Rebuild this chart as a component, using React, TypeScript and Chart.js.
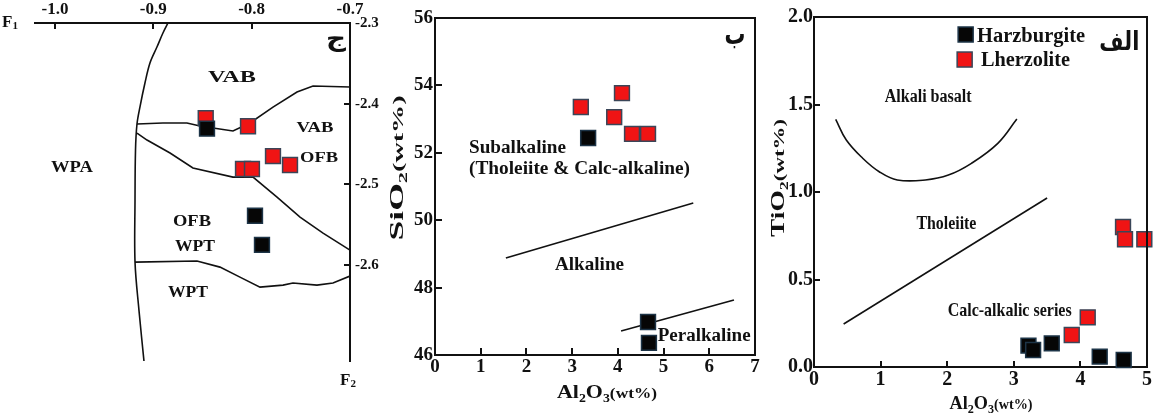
import React, { useEffect, useRef } from 'react';
import { Chart, registerables } from 'chart.js';

Chart.register(...registerables);

const SERIF = '"Liberation Serif", "Times New Roman", serif';
const ARABIC = '"DejaVu Sans", sans-serif';
const INK = '#111111';
const RED = '#f01414';
const RED_EDGE = '#3a4658';
const BLACK = '#060606';
const BLACK_EDGE = '#1d3447';

// ---------- Panel ج : F1 – F2 discrimination diagram ----------
const F1_TICKS = [-1.0, -0.9, -0.8, -0.7];
const F2_TICKS = [-2.3, -2.4, -2.5, -2.6];
const J_HARZ_F1 = [-0.8454, -0.7966, -0.7895];
const J_HARZ_F2 = [-2.431, -2.539, -2.575];
const J_LHERZ_F1 = [-0.8467, -0.8037, -0.8088, -0.7997, -0.7783, -0.761];
const J_LHERZ_F2 = [-2.418, -2.428, -2.481, -2.481, -2.465, -2.476];
const J_ARC_F1 = [-0.8851, -0.8902, -0.8963, -0.9034, -0.9085, -0.9136, -0.9166, -0.9181, -0.9186, -0.9186, -0.9146, -0.9095];
const J_ARC_F2 = [-2.3, -2.3124, -2.3298, -2.3496, -2.3744, -2.4042, -2.4252, -2.4575, -2.5195, -2.5964, -2.6559, -2.719];
const J_VAB_F1 = [-0.9166, -0.8902, -0.8658, -0.8525, -0.8393, -0.819, -0.8017, -0.7783, -0.7539, -0.7376, -0.7];
const J_VAB_F2 = [-2.4252, -2.424, -2.424, -2.4277, -2.4302, -2.4339, -2.424, -2.4042, -2.3856, -2.3781, -2.3794];
const J_OFB_F1 = [-0.9166, -0.9064, -0.883, -0.8597, -0.819, -0.7986, -0.7742, -0.7508, -0.7274, -0.7];
const J_OFB_F2 = [-2.4364, -2.4451, -2.4612, -2.4798, -2.491, -2.491, -2.5158, -2.5406, -2.5604, -2.5815];
const J_WPT_F1 = [-0.9186, -0.8556, -0.8322, -0.8119, -0.7915, -0.7681, -0.758, -0.7336, -0.7173, -0.7];
const J_WPT_F2 = [-2.5964, -2.5951, -2.6026, -2.615, -2.6274, -2.6249, -2.6224, -2.6249, -2.6224, -2.6137];

// ---------- Panel ب : SiO2 vs Al2O3 ----------
const B_AL_TICKS = [0, 1, 2, 3, 4, 5, 6, 7];
const B_SI_TICKS = [46, 48, 50, 52, 54, 56];
const B_HARZ_AL = [3.35, 4.66, 4.68];
const B_HARZ_SI = [52.44, 46.98, 46.36];
const B_LHERZ_AL = [3.19, 4.09, 3.92, 4.31, 4.66];
const B_LHERZ_SI = [53.36, 53.77, 53.06, 52.56, 52.56];
const B_ALK_AL = [1.55, 5.65];
const B_ALK_SI = [48.88, 50.51];
const B_PER_AL = [4.07, 6.54];
const B_PER_SI = [46.71, 47.63];

// ---------- Panel الف : TiO2 vs Al2O3 ----------
const A_AL_TICKS = [0, 1, 2, 3, 4, 5];
const A_TI_TICKS = [0, 0.5, 1.0, 1.5, 2.0];
const A_HARZ_AL = [3.22, 3.29, 3.57, 4.29, 4.65];
const A_HARZ_TI = [0.122, 0.097, 0.135, 0.059, 0.04];
const A_LHERZ_AL = [4.64, 4.67, 4.96, 3.87, 4.11];
const A_LHERZ_TI = [0.8, 0.73, 0.73, 0.183, 0.284];
const A_ALKB_AL = [0.326, 0.485, 0.731, 0.979, 1.251, 1.672, 2.018, 2.364, 2.76, 3.046];
const A_ALKB_TI = [1.415, 1.297, 1.193, 1.116, 1.069, 1.069, 1.097, 1.164, 1.278, 1.417];
const A_THOL_AL = [0.445, 3.5];
const A_THOL_TI = [0.246, 0.966];

type Seg = { t: string; size: number; dy?: number };
type Ann = { segs: Seg[]; x: number; y: number; w?: number; align?: 'left' | 'center'; vb?: number; family?: string };

const J_ANNS: Ann[] = [
  { segs: [{ t: 'VAB', size: 16 }], x: -0.82, y: -2.367, w: 48 },
  { segs: [{ t: 'VAB', size: 15 }], x: -0.7356, y: -2.429, w: 37 },
  { segs: [{ t: 'OFB', size: 15 }], x: -0.7315, y: -2.4662, w: 38 },
  { segs: [{ t: 'WPA', size: 17 }], x: -0.9827, y: -2.4773, w: 42 },
  { segs: [{ t: 'OFB', size: 16 }], x: -0.8607, y: -2.5455, w: 38 },
  { segs: [{ t: 'WPT', size: 16 }], x: -0.8576, y: -2.5753, w: 40 },
  { segs: [{ t: 'WPT', size: 16 }], x: -0.8647, y: -2.6323, w: 40 },
  { segs: [{ t: 'ج', size: 24 }], x: -0.7142, y: -2.3285, w: 20, vb: 0, family: ARABIC },
];
const B_ANNS: Ann[] = [
  { segs: [{ t: 'Subalkaline', size: 18 }], x: 0.744, y: 52.18, w: 97, align: 'left' },
  { segs: [{ t: '(Tholeiite & Calc-alkaline)', size: 18 }], x: 0.744, y: 51.55, w: 221, align: 'left' },
  { segs: [{ t: 'Alkaline', size: 19 }], x: 3.38, y: 48.715, w: 69 },
  { segs: [{ t: 'Peralkaline', size: 18 }], x: 4.87, y: 46.59, w: 93, align: 'left' },
  { segs: [{ t: 'ب', size: 30 }], x: 6.563, y: 55.22, w: 21, vb: 0, family: ARABIC },
];
const A_ANNS: Ann[] = [
  { segs: [{ t: 'Alkali basalt', size: 18 }], x: 1.714, y: 1.549, w: 87 },
  { segs: [{ t: 'Tholeiite', size: 18 }], x: 1.988, y: 0.826, w: 60 },
  { segs: [{ t: 'Calc-alkalic series', size: 19 }], x: 2.938, y: 0.329, w: 124 },
  { segs: [{ t: 'Harzburgite', size: 20 }], x: 2.448, y: 1.897, w: 108, align: 'left' },
  { segs: [{ t: 'Lherzolite', size: 20 }], x: 2.507, y: 1.76, w: 89, align: 'left' },
  { segs: [{ t: 'الف', size: 26 }], x: 4.585, y: 1.811, w: 40, vb: 0, family: ARABIC },
];
const A_LEGEND = [
  { x: 2.277, y: 1.9, fill: BLACK, edge: BLACK_EDGE },
  { x: 2.262, y: 1.757, fill: RED, edge: RED_EDGE },
];

const zip = (xs: number[], ys: number[]) => xs.map((x, i) => ({ x, y: ys[i] }));

function drawSegs(
  ctx: CanvasRenderingContext2D,
  segs: Seg[],
  x: number,
  y: number,
  o: { align?: 'left' | 'center'; width?: number; rotate?: number; family?: string; base?: number }
) {
  const fam = o.family || SERIF;
  ctx.save();
  let natural = 0;
  for (const s of segs) {
    ctx.font = `bold ${s.size}px ${fam}`;
    natural += ctx.measureText(s.t).width;
  }
  const sx = o.width ? o.width / natural : 1;
  ctx.translate(x, y);
  if (o.rotate) ctx.rotate(o.rotate);
  ctx.scale(sx, 1);
  let cx = o.align === 'left' ? 0 : -natural / 2;
  ctx.fillStyle = INK;
  ctx.textAlign = 'left';
  ctx.textBaseline = 'alphabetic';
  for (const s of segs) {
    ctx.font = `bold ${s.size}px ${fam}`;
    ctx.fillText(s.t, cx, (o.base || 0) + (s.dy || 0));
    cx += ctx.measureText(s.t).width;
  }
  ctx.restore();
}

function pointSet(label: string, xs: number[], ys: number[], fill: string, edge: string) {
  return {
    label,
    data: zip(xs, ys),
    pointStyle: 'rect',
    pointRadius: 10.5,
    pointHoverRadius: 10.5,
    backgroundColor: fill,
    borderColor: edge,
    borderWidth: 1.5,
    showLine: false,
    clip: false,
  };
}

function lineSet(xs: number[], ys: number[], tension: number) {
  return {
    data: zip(xs, ys),
    showLine: true,
    borderColor: INK,
    borderWidth: 1.6,
    pointRadius: 0,
    pointHoverRadius: 0,
    tension,
    fill: false,
  };
}

function scale(o: { pos: string; min: number; max: number; ticks: number[]; size: number; pad: number; fit: number; fmt: (v: number) => string; horizontal: boolean }) {
  return {
    type: 'linear',
    position: o.pos,
    min: o.min,
    max: o.max,
    afterBuildTicks: (s: any) => {
      s.ticks = o.ticks.map((v) => ({ value: v }));
    },
    afterFit: (s: any) => {
      if (o.horizontal) s.height = o.fit;
      else s.width = o.fit;
    },
    grid: { display: false, drawTicks: false },
    border: { display: true, color: INK, width: 2 },
    ticks: {
      autoSkip: false,
      maxRotation: 0,
      minRotation: 0,
      padding: o.pad,
      color: INK,
      font: { family: SERIF, size: o.size, weight: 'bold' },
      callback: (v: any) => o.fmt(Number(v)),
    },
  };
}

function decor(spec: {
  anns: Ann[];
  ticks: { id: string; vals: number[]; side: string; len: number }[];
  frame?: string[];
  extra?: (chart: any, ctx: CanvasRenderingContext2D) => void;
}) {
  return {
    id: 'decor',
    afterDraw(chart: any) {
      const ctx: CanvasRenderingContext2D = chart.ctx;
      const a = chart.chartArea;
      const xs = chart.scales.x;
      const ys = chart.scales.y;
      ctx.save();
      ctx.strokeStyle = INK;
      ctx.lineWidth = 2;
      ctx.beginPath();
      for (const f of spec.frame || []) {
        if (f === 'top') {
          ctx.moveTo(a.left - 1, a.top);
          ctx.lineTo(a.right + 1, a.top);
        }
        if (f === 'right') {
          ctx.moveTo(a.right, a.top);
          ctx.lineTo(a.right, a.bottom + 1);
        }
      }
      for (const t of spec.ticks) {
        const s = chart.scales[t.id];
        for (const v of t.vals) {
          const p = Math.round(s.getPixelForValue(v));
          if (t.side === 'top') { ctx.moveTo(p, a.top); ctx.lineTo(p, a.top + t.len); }
          if (t.side === 'bottom') { ctx.moveTo(p, a.bottom); ctx.lineTo(p, a.bottom - t.len); }
          if (t.side === 'left') { ctx.moveTo(a.left, p); ctx.lineTo(a.left + t.len, p); }
          if (t.side === 'right') { ctx.moveTo(a.right, p); ctx.lineTo(a.right - t.len, p); }
        }
      }
      ctx.stroke();
      for (const an of spec.anns) {
        const px = xs.getPixelForValue(an.x);
        const py = ys.getPixelForValue(an.y);
        const big = Math.max(...an.segs.map((s) => s.size));
        drawSegs(ctx, an.segs, px, py, {
          align: an.align || 'center',
          width: an.w,
          family: an.family,
          base: (an.vb ?? 0.34) * big,
        });
      }
      if (spec.extra) spec.extra(chart, ctx);
      ctx.restore();
    },
  };
}

function baseOptions(padding: any, scales: any) {
  return {
    responsive: false,
    animation: false,
    devicePixelRatio: 1,
    events: [],
    layout: { autoPadding: false, padding },
    plugins: { legend: { display: false }, tooltip: { enabled: false } },
    scales,
  };
}

function configJ(): any {
  return {
    type: 'scatter',
    data: {
      datasets: [
        pointSet('Harzburgite', J_HARZ_F1, J_HARZ_F2, BLACK, BLACK_EDGE),
        pointSet('Lherzolite', J_LHERZ_F1, J_LHERZ_F2, RED, RED_EDGE),
        lineSet(J_ARC_F1, J_ARC_F2, 0.35),
        lineSet(J_VAB_F1, J_VAB_F2, 0),
        lineSet(J_OFB_F1, J_OFB_F2, 0),
        lineSet(J_WPT_F1, J_WPT_F2, 0),
      ],
    },
    options: baseOptions(
      { left: 35, right: 0, top: 0, bottom: 57 },
      {
        x: scale({ pos: 'top', min: -1.0203, max: -0.7, ticks: F1_TICKS, size: 17, pad: 3, fit: 23, fmt: (v) => v.toFixed(1), horizontal: true }),
        y: scale({ pos: 'right', min: -2.719, max: -2.3, ticks: F2_TICKS, size: 15, pad: 5, fit: 50, fmt: (v) => v.toFixed(1), horizontal: false }),
      }
    ),
    plugins: [
      decor({
        anns: J_ANNS,
        ticks: [
          { id: 'x', vals: F1_TICKS, side: 'top', len: 6 },
          { id: 'y', vals: F2_TICKS, side: 'right', len: 6 },
        ],
        extra: (chart, ctx) => {
          drawSegs(ctx, [{ t: 'F', size: 17 }, { t: '1', size: 11, dy: 2 }], 2, 27, { align: 'left' });
          drawSegs(ctx, [{ t: 'F', size: 17 }, { t: '2', size: 11, dy: 2 }], 340, 385, { align: 'left' });
        },
      }),
    ],
  };
}

function configB(): any {
  return {
    type: 'scatter',
    data: {
      datasets: [
        pointSet('Harzburgite', B_HARZ_AL, B_HARZ_SI, BLACK, BLACK_EDGE),
        pointSet('Lherzolite', B_LHERZ_AL, B_LHERZ_SI, RED, RED_EDGE),
        lineSet(B_ALK_AL, B_ALK_SI, 0),
        lineSet(B_PER_AL, B_PER_SI, 0),
      ],
    },
    options: baseOptions(
      { left: 0, right: 20, top: 18, bottom: 23 },
      {
        x: scale({ pos: 'bottom', min: 0, max: 7, ticks: B_AL_TICKS, size: 19, pad: 1, fit: 40, fmt: (v) => String(v), horizontal: true }),
        y: scale({ pos: 'left', min: 46, max: 56, ticks: B_SI_TICKS, size: 19, pad: 2, fit: 60, fmt: (v) => String(v), horizontal: false }),
      }
    ),
    plugins: [
      decor({
        anns: B_ANNS,
        frame: ['top', 'right'],
        ticks: [
          { id: 'x', vals: B_AL_TICKS, side: 'bottom', len: 7 },
          { id: 'y', vals: B_SI_TICKS, side: 'left', len: 7 },
        ],
        extra: (chart, ctx) => {
          drawSegs(ctx, [{ t: 'SiO', size: 19 }, { t: '2', size: 12, dy: 4 }, { t: '(wt%)', size: 15 }], 21, 168, {
            width: 145,
            rotate: -Math.PI / 2,
            base: 6.5,
          });
          drawSegs(
            ctx,
            [{ t: 'Al', size: 19 }, { t: '2', size: 12, dy: 4 }, { t: 'O', size: 19 }, { t: '3', size: 12, dy: 4 }, { t: '(wt%)', size: 15 }],
            232,
            391,
            { width: 100, base: 6.5 }
          );
        },
      }),
    ],
  };
}

function configA(): any {
  return {
    type: 'scatter',
    data: {
      datasets: [
        pointSet('Harzburgite', A_HARZ_AL, A_HARZ_TI, BLACK, BLACK_EDGE),
        pointSet('Lherzolite', A_LHERZ_AL, A_LHERZ_TI, RED, RED_EDGE),
        lineSet(A_ALKB_AL, A_ALKB_TI, 0.4),
        lineSet(A_THOL_AL, A_THOL_TI, 0),
      ],
    },
    options: baseOptions(
      { left: 0, right: 3, top: 17, bottom: 11 },
      {
        x: scale({ pos: 'bottom', min: 0, max: 5, ticks: A_AL_TICKS, size: 20, pad: 1, fit: 40, fmt: (v) => String(v), horizontal: true }),
        y: scale({ pos: 'left', min: 0, max: 2, ticks: A_TI_TICKS, size: 20, pad: 1, fit: 49, fmt: (v) => v.toFixed(1), horizontal: false }),
      }
    ),
    plugins: [
      decor({
        anns: A_ANNS,
        frame: ['top', 'right'],
        ticks: [
          { id: 'x', vals: A_AL_TICKS, side: 'bottom', len: 6 },
          { id: 'y', vals: A_TI_TICKS, side: 'left', len: 6 },
        ],
        extra: (chart, ctx) => {
          const xs = chart.scales.x;
          const ys = chart.scales.y;
          for (const l of A_LEGEND) {
            const px = xs.getPixelForValue(l.x);
            const py = ys.getPixelForValue(l.y);
            ctx.fillStyle = l.fill;
            ctx.fillRect(px - 7.5, py - 7.5, 15, 15);
            ctx.strokeStyle = l.edge;
            ctx.lineWidth = 1.5;
            ctx.strokeRect(px - 7.5, py - 7.5, 15, 15);
          }
          drawSegs(ctx, [{ t: 'TiO', size: 18 }, { t: '2', size: 12, dy: 4 }, { t: '(wt%)', size: 15 }], 13, 178, {
            width: 118,
            rotate: -Math.PI / 2,
            base: 6,
          });
          drawSegs(
            ctx,
            [{ t: 'Al', size: 18 }, { t: '2', size: 12, dy: 4 }, { t: 'O', size: 18 }, { t: '3', size: 12, dy: 4 }, { t: '(wt%)', size: 14 }],
            226,
            403,
            { width: 83, base: 6 }
          );
        },
      }),
    ],
  };
}

function Panel({ left, width, make }: { left: number; width: number; make: () => any }) {
  const ref = useRef<HTMLCanvasElement>(null);
  useEffect(() => {
    const chart = new Chart(ref.current as HTMLCanvasElement, make());
    return () => chart.destroy();
  }, []);
  return (
    <canvas
      ref={ref}
      width={width}
      height={418}
      style={{ position: 'absolute', left, top: 0, width, height: 418 }}
    />
  );
}

export default function App() {
  return (
    <div style={{ position: 'absolute', left: 0, top: 0, width: 1153, height: 418, background: '#ffffff', overflow: 'hidden' }}>
      <Panel left={0} width={400} make={configJ} />
      <Panel left={375} width={400} make={configB} />
      <Panel left={765} width={388} make={configA} />
    </div>
  );
}
